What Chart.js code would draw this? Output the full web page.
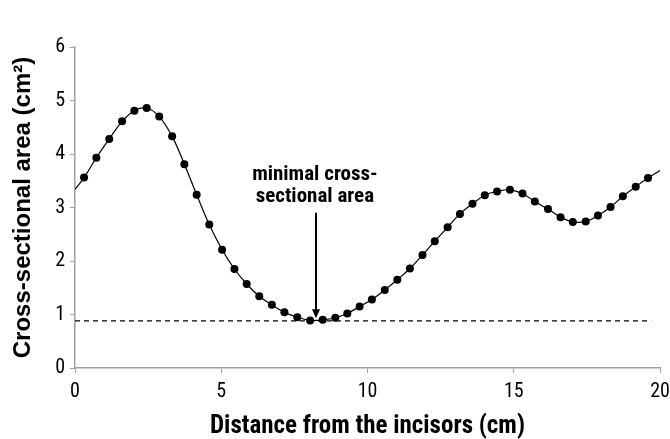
<!DOCTYPE html>
<html><head><meta charset="utf-8">
<script src="https://cdn.jsdelivr.net/npm/chart.js@4"></script>
<style>html,body{margin:0;padding:0;background:#fff}#wrap{width:670px;height:439px}</style>
</head><body><div id="wrap"><canvas id="c" width="670" height="439"></canvas></div>
<script>
const distances = [0.31,0.73,1.17,1.61,2.03,2.45,2.88,3.32,3.74,4.16,4.59,5.03,5.45,5.87,6.30,6.73,7.16,7.60,8.04,8.47,8.90,9.31,9.73,10.15,10.59,11.02,11.45,11.88,12.30,12.74,13.16,13.59,14.01,14.43,14.87,15.30,15.72,16.17,16.60,17.02,17.46,17.88,18.31,18.73,19.17,19.59];
const areas = [3.56,3.93,4.28,4.61,4.81,4.86,4.70,4.33,3.81,3.24,2.68,2.21,1.85,1.57,1.34,1.18,1.04,0.95,0.89,0.90,0.94,1.02,1.15,1.28,1.46,1.65,1.86,2.11,2.37,2.63,2.88,3.07,3.23,3.30,3.33,3.26,3.11,2.97,2.82,2.73,2.74,2.85,3.01,3.21,3.39,3.55];
const curveStart = {x: 0, y: 3.34};
const curveEnd = {x: 20, y: 3.69};
const minimalArea = 0.88;
const dashedRange = [0, 19.7];
const arrowX = 8.25;
const arrowFromY = 2.90;
const arrowToY = 0.93;
const annotationLines = ["minimal cross-", "sectional area"];
const annotationYs = [3.61, 3.20];
const xTicks = [0,5,10,15,20];
const yTicks = [0,1,2,3,4,5,6];

const points = distances.map((d,i)=>({x:d,y:areas[i]}));
const curve = [curveStart, ...points, curveEnd];
const NARROW = '"Roboto Condensed", "DejaVu Sans Condensed", sans-serif';

const annotatePlugin = {
  id:'annot',
  afterDatasetsDraw(chart){
    const {ctx, scales:{x,y}} = chart;
    ctx.save();
    const px = Math.round(x.getPixelForValue(arrowX));
    const y1 = y.getPixelForValue(arrowFromY);
    const y2 = y.getPixelForValue(arrowToY);
    ctx.strokeStyle = '#000'; ctx.lineWidth = 2;
    ctx.beginPath(); ctx.moveTo(px,y1); ctx.lineTo(px,y2-6); ctx.stroke();
    ctx.fillStyle='#000';
    ctx.beginPath(); ctx.moveTo(px-4,y2-9); ctx.lineTo(px+4,y2-9); ctx.lineTo(px,y2); ctx.closePath(); ctx.fill();
    ctx.font = 'bold 21px ' + NARROW;
    ctx.textAlign='center'; ctx.textBaseline='middle';
    const tx = x.getPixelForValue(8.2);
    annotationLines.forEach((t,i)=>ctx.fillText(t, tx, y.getPixelForValue(annotationYs[i])));
    ctx.restore();
  }
};

new Chart(document.getElementById('c'), {
  type:'scatter',
  data:{datasets:[
    {data:curve, showLine:true, borderColor:'#000', borderWidth:1.2, pointRadius:0, tension:0.4, fill:false},
    {data:points, showLine:false, pointRadius:4, pointBackgroundColor:'#000', pointBorderColor:'#000', pointBorderWidth:0},
    {data:[{x:dashedRange[0],y:minimalArea},{x:dashedRange[1],y:minimalArea}], showLine:true, borderColor:'#000', borderWidth:1.2, borderDash:[5,4], pointRadius:0}
  ]},
  options:{
    responsive:false, animation:false,
    layout:{padding:{left:5,top:47,right:10,bottom:0}},
    plugins:{legend:{display:false}, tooltip:{enabled:false}},
    scales:{
      x:{type:'linear', min:0, max:20,
        afterBuildTicks(s){s.ticks = xTicks.map(v=>({value:v}));},
        afterFit(s){s.height = 71; s.paddingLeft = 0; s.paddingRight = 0;},
        border:{color:'#a0a0a0', width:1.5},
        grid:{display:true, drawOnChartArea:false, tickLength:5, color:'#a0a0a0'},
        ticks:{color:'#000', padding:7, maxRotation:0, font:{family:NARROW, size:20}},
        title:{display:true, text:'Distance from the incisors (cm)', color:'#000', padding:{top:0,bottom:0}, font:{family:NARROW, size:25, weight:'bold', lineHeight:1.0}}
      },
      y:{min:0, max:6,
        afterBuildTicks(s){s.ticks = yTicks.map(v=>({value:v}));},
        afterFit(s){s.width = 70; s.paddingTop = 0; s.paddingBottom = 0;},
        border:{color:'#a0a0a0', width:1.5},
        grid:{display:true, drawOnChartArea:false, tickLength:5, color:'#a0a0a0'},
        ticks:{color:'#000', padding:5, font:{family:NARROW, size:20}},
        title:{display:true, text:'Cross-sectional area (cm²)', color:'#000', padding:{bottom:8}, font:{family:'"Liberation Sans", Arial, sans-serif', size:24, weight:'bold'}}
      }
    }
  },
  plugins:[annotatePlugin]
});
</script></body></html>
